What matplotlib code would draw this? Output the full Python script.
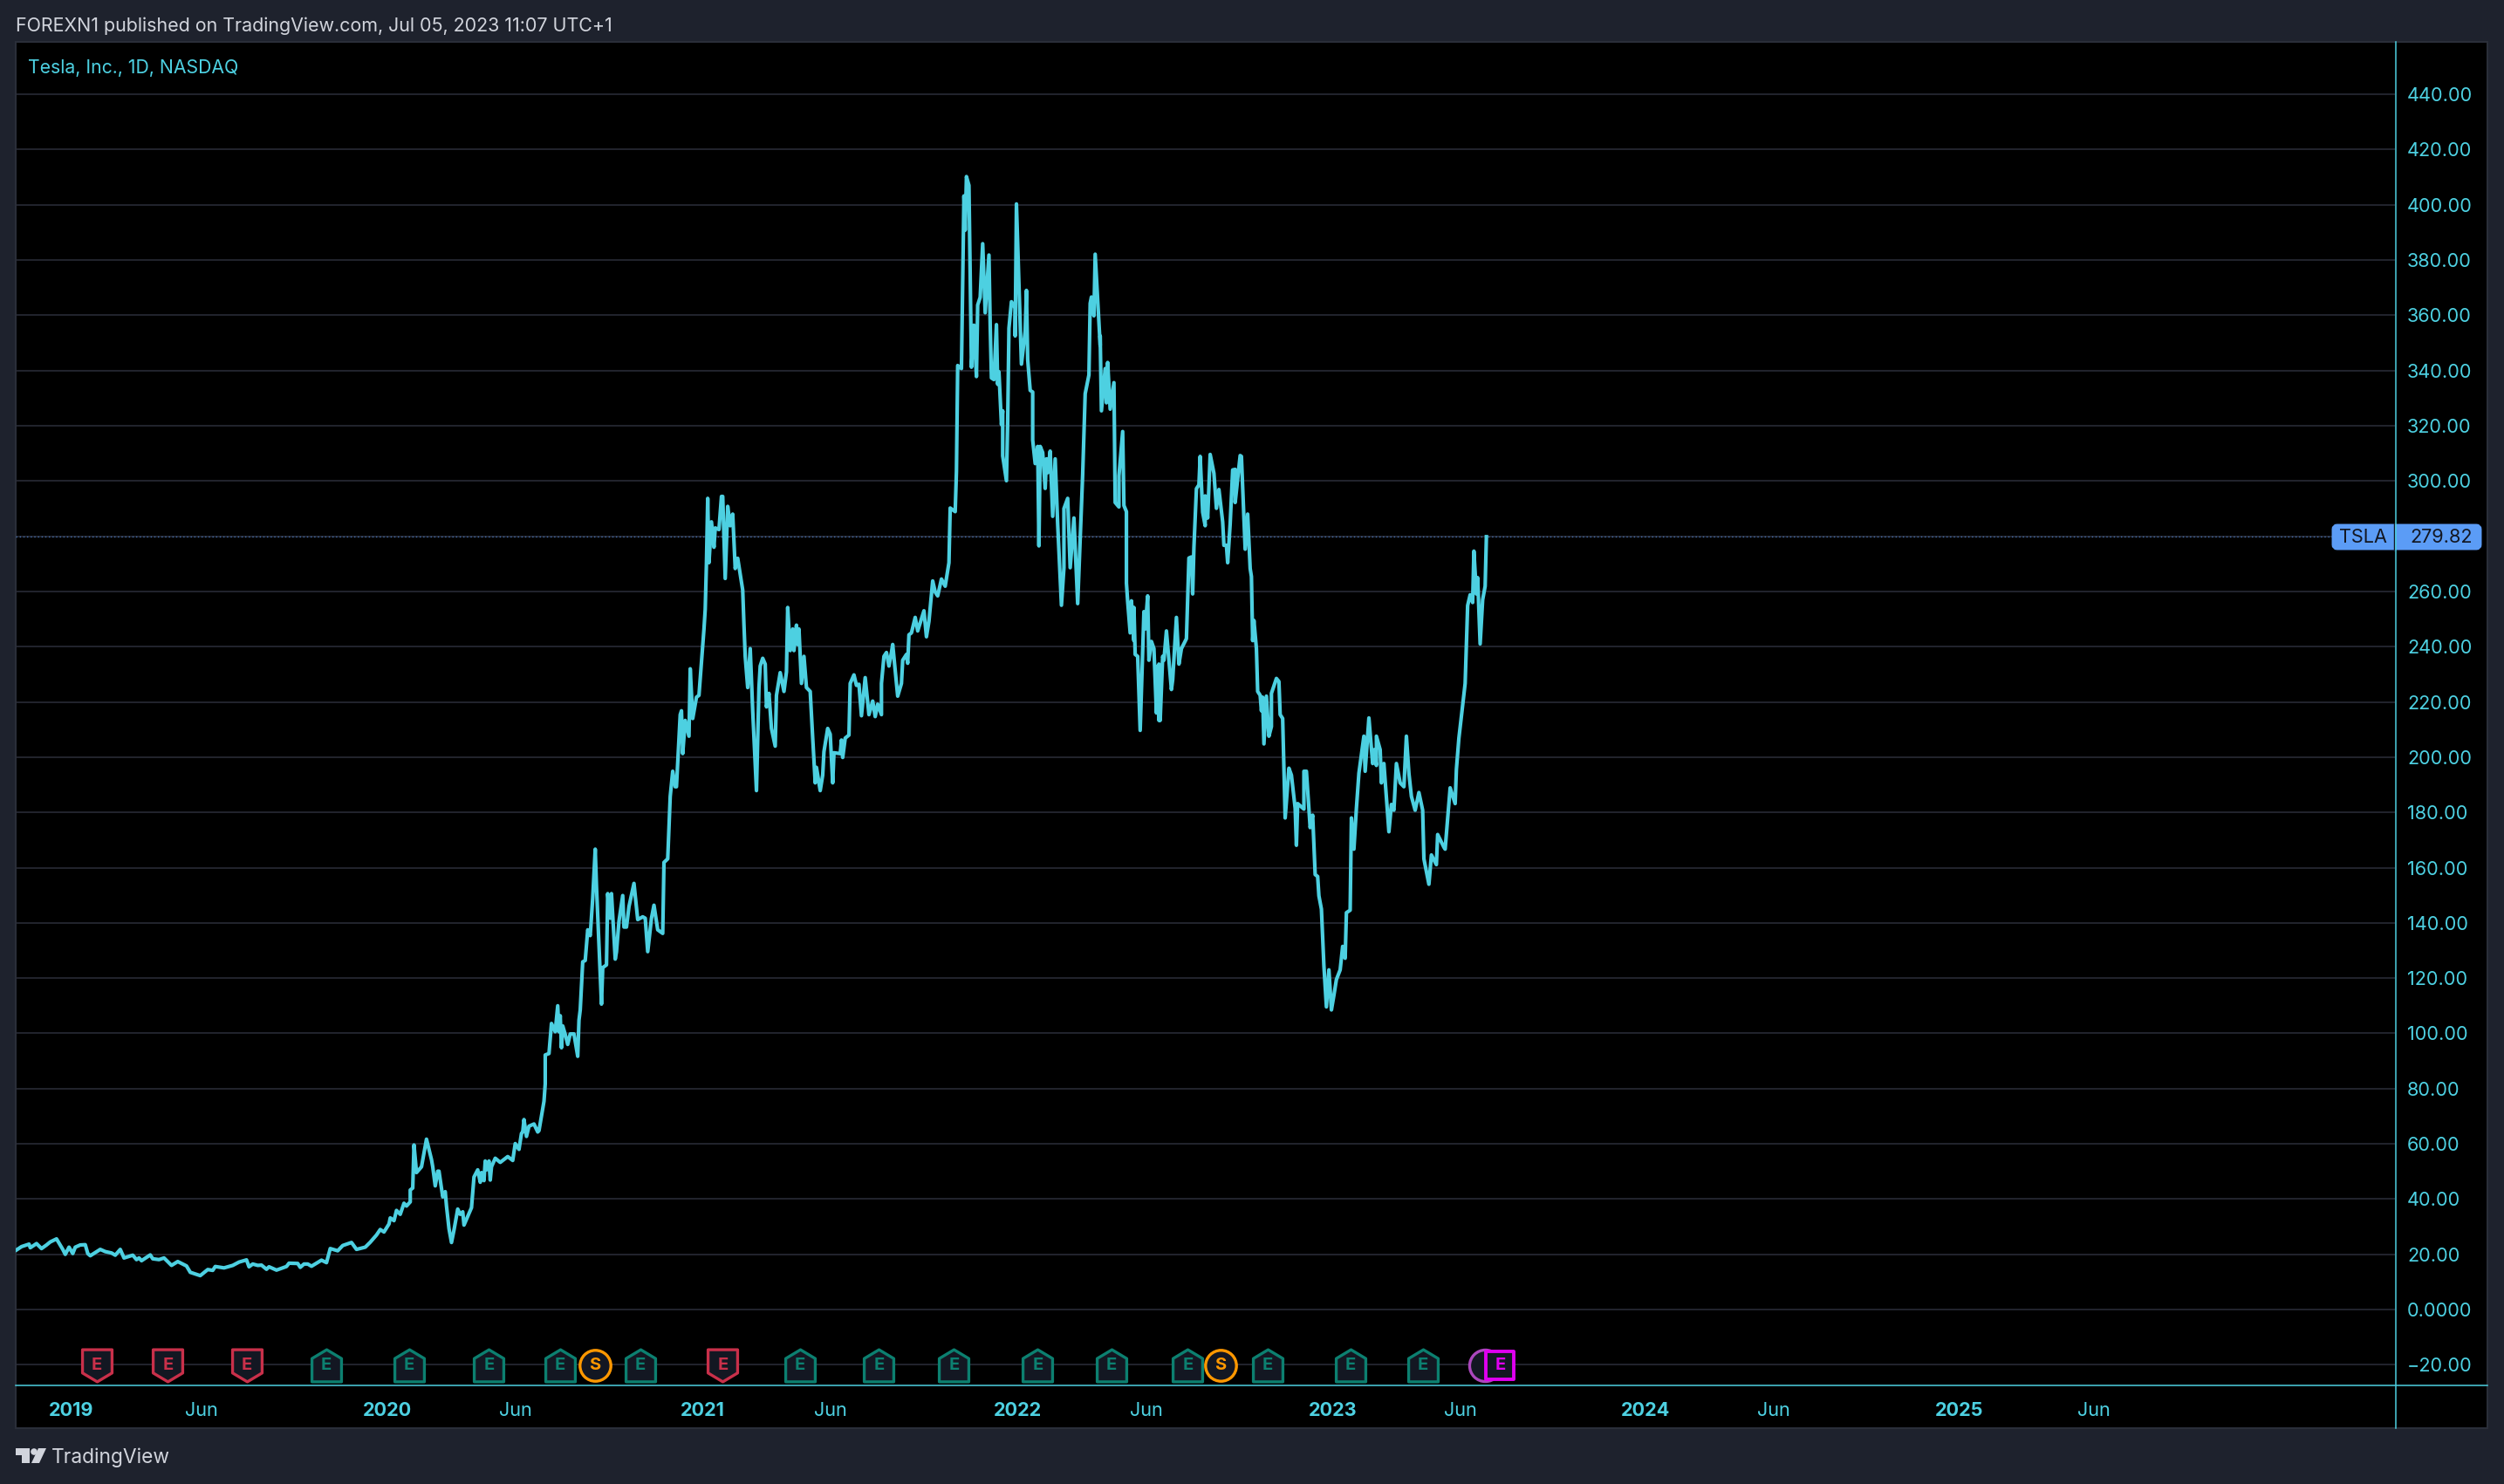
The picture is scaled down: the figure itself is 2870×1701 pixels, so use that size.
import numpy as np
import matplotlib
matplotlib.use('Agg')
import matplotlib.pyplot as plt
from matplotlib.lines import Line2D
from matplotlib.markers import MarkerStyle
from matplotlib.patches import Circle, FancyBboxPatch, Polygon, Rectangle
from matplotlib.path import Path

# session = trading days counted from the first session of 2019
sessions_2019 = [-44, -40, -34, -33, -28, -24, -20, -17, -12, -7, -5, -2, 1, 3, 7, 11, 13, 15, 23, 27, 32, 35, 39, 42, 49, 52, 54, 56, 63, 65, 70, 74, 80, 85, 92, 95, 103, 109, 113, 115, 122, 129, 134, 140, 142, 145, 149, 152, 156, 158, 164, 172, 174, 181, 183, 186, 189, 192, 200, 204, 207, 213, 217, 224, 228, 235, 239, 244, 247, 250, 254, 255]
close_2019 = [21.6, 22.8, 23.7, 22.4, 23.9, 22.1, 23.4, 24.5, 25.6, 21.8, 20, 22.6, 20.3, 22.6, 23.4, 23.5, 20.3, 19.5, 21.8, 21, 20.5, 19.7, 21.8, 18.7, 19.7, 18.1, 18.7, 17.7, 19.8, 18.4, 18.1, 18.7, 16, 17.4, 15.8, 13.5, 12.3, 14.5, 14.2, 15.6, 15.1, 16, 17.2, 18, 15.5, 16.5, 16, 16.1, 14.6, 15.5, 14.3, 15.6, 16.8, 16.7, 15.3, 16.5, 16.5, 15.7, 17.9, 17, 22.1, 21.3, 23.2, 24.3, 21.8, 22.6, 24.4, 27, 29, 28.1, 31, 33.2]

sessions_2020 = [258, 260, 263, 266, 268, 271, 271, 273, 274, 276, 280, 284, 288, 289, 291, 293, 294, 297, 299, 300, 302, 304, 306, 309, 311, 313, 314, 320, 322, 325, 327, 328, 330, 331, 332, 334, 335, 336, 339, 343, 349, 353, 355, 358, 360, 361, 362, 364, 366, 370, 373, 374, 378, 379, 379, 382, 384, 387, 389, 390, 391, 392, 393, 395, 397, 399, 402, 405, 406, 407, 409, 411, 413, 415, 417, 419, 420, 424, 425, 428, 429, 431, 432, 435, 436, 438, 441, 442, 444, 446, 450, 453, 457, 459, 461, 464, 466, 469, 473]
close_2020 = [32.2, 35.9, 34.5, 38.5, 37.5, 39, 43.3, 44, 59.6, 49.6, 51.7, 61.7, 54.3, 51.7, 44.8, 50.1, 50.1, 40.8, 42.7, 37.5, 29.3, 24.3, 28.8, 36.4, 34.5, 35.4, 30.6, 36.9, 48, 50.6, 46.1, 49.6, 46.7, 53.8, 50.6, 53.8, 46.9, 51.7, 54.8, 53.3, 55.4, 54, 60.1, 58, 63.8, 64.3, 68.8, 62.7, 66.4, 67.2, 64.3, 64.8, 75.4, 81.7, 92.2, 92.7, 103.6, 100.6, 110, 100.6, 106.4, 94.8, 102.7, 99.6, 96, 99.8, 99.8, 91.7, 104.8, 108.5, 125.9, 126.4, 137.5, 135.4, 149, 166.7, 153.3, 110.6, 123.8, 124.8, 150.6, 141.7, 150.6, 126.9, 129.5, 140.6, 149.9, 138.5, 138.5, 145.9, 154.3, 141.2, 142.2, 141.7, 129.6, 141.7, 146.4, 137.5, 136.2]

sessions_2021 = [474, 477, 479, 481, 483, 484, 487, 488, 489, 491, 494, 495, 497, 500, 502, 506, 507, 508, 509, 510, 512, 514, 515, 518, 520, 521, 523, 525, 527, 529, 531, 533, 537, 538, 539, 541, 543, 545, 548, 550, 551, 553, 555, 556, 558, 560, 563, 564, 567, 570, 572, 573, 575, 577, 578, 580, 581, 582, 584, 586, 588, 591, 593, 595, 596, 599, 601, 602, 605, 607, 609, 610, 615, 616, 617, 619, 622, 623, 626, 628, 630, 632, 635, 638, 641, 643, 645, 648, 648, 650, 652, 654, 656, 657, 661, 664, 665, 668, 669, 670, 672, 675, 677, 682, 684, 686, 689, 691, 693, 696, 699, 702]
close_2021 = [161.9, 163.2, 185.8, 194.9, 189.3, 189.3, 215.4, 216.8, 201.3, 213.3, 207.6, 232, 214, 221.7, 222.4, 246.4, 253.5, 270.4, 293.7, 270.4, 285.2, 276, 283, 282.4, 294.4, 294.4, 264.7, 290.8, 283.8, 288, 268.3, 272, 260.5, 247.8, 236.5, 225.2, 239.3, 216.8, 187.9, 225.2, 233, 235.8, 233.7, 218.2, 223.1, 210.4, 204, 222.4, 230.6, 223.8, 230.9, 254.2, 238.6, 246.4, 238.6, 247.8, 240.8, 246.4, 226.7, 236.5, 225.2, 223.8, 206.9, 190.7, 196.3, 187.9, 193.5, 202, 210.4, 208.3, 190.7, 201.6, 201.3, 206.2, 199.9, 206.9, 208, 226.7, 229.8, 226, 226.4, 215, 228.8, 215.4, 220.3, 214.7, 219.2, 215.4, 226.7, 236.5, 237.9, 233, 237.9, 240.8, 222.1, 226.7, 235.1, 237.2, 234, 244.3, 245, 250.6, 245.7, 253, 243.6, 249.2, 263.8, 259.8, 258.4, 264.5, 261.9, 270.4]

sessions_2022 = [703, 707, 708, 709, 712, 714, 715, 716, 718, 720, 722, 724, 725, 727, 729, 731, 734, 735, 736, 738, 740, 741, 742, 744, 745, 745, 748, 749, 750, 752, 755, 755, 756, 760, 763, 764, 765, 767, 769, 769, 771, 773, 774, 775, 777, 779, 780, 781, 783, 785, 787, 789, 792, 794, 794, 797, 799, 802, 805, 809, 811, 814, 815, 816, 818, 819, 823, 823, 824, 827, 828, 829, 831, 834, 835, 838, 838, 841, 842, 844, 844, 845, 847, 848, 850, 850, 851, 853, 855, 858, 859, 861, 862, 864, 866, 868, 869, 870, 870, 871, 873, 874, 876, 878, 880, 881, 884, 886, 888, 892, 894, 896, 897, 898, 900, 902, 903, 905, 907, 907, 909, 911, 914, 916, 918, 921, 922, 924, 925, 927, 929, 931, 931, 935, 936, 939, 941, 943, 944, 945, 946, 948, 949, 951, 952, 953, 954, 956, 958, 960, 960, 964, 966, 967, 969, 971, 974, 976, 979, 980, 981, 986, 986, 988, 990, 991, 993, 995, 997, 998, 1000, 1002, 1004, 1006]
close_2022 = [290.2, 288.9, 303.5, 341.8, 340.7, 403.2, 390.8, 410.2, 407, 341.2, 356.4, 337.8, 363.7, 366.5, 385.9, 360.9, 381.8, 356.4, 337.3, 336.7, 356.6, 335, 339.5, 320.4, 325.4, 309.1, 300.1, 321.5, 355.3, 364.9, 362.6, 352.5, 400.3, 342.3, 354.2, 369, 344, 332.8, 332.2, 314.8, 306.3, 312.5, 276.5, 312.5, 310.3, 297.3, 308, 303, 310.8, 287.2, 308, 284.3, 255, 268.6, 290, 293.7, 268.6, 286.6, 255.6, 302.4, 331.6, 338.4, 364.3, 366.6, 359.8, 382.1, 349.1, 352.5, 325.4, 340.7, 328.3, 342.9, 326, 335.6, 292.2, 290.6, 301.8, 317.9, 291.1, 288.9, 263, 256.3, 245, 256.6, 242.2, 254.2, 237.2, 236.5, 209.7, 252.7, 246.4, 258.4, 235.1, 241.9, 239.3, 216, 233, 213.3, 233.7, 213.3, 236.5, 235.1, 245.7, 235.1, 224.5, 228, 250.6, 233.7, 239.3, 242.9, 272.1, 272.5, 259.1, 276, 297.2, 298.6, 308.9, 288.7, 283.8, 294.6, 286.6, 309.6, 302.8, 290.1, 296.9, 285.2, 276.7, 276.7, 270.4, 284.5, 304, 304.2, 292.2, 309.2, 308.9, 275.3, 288, 268.3, 265.4, 242.2, 249.5, 239.3, 223.8, 222.4, 216.8, 221.7, 204.8, 222.1, 207.6, 211.1, 223.1, 228.5, 227.4, 215.4, 214, 178, 196, 193.5, 181.5, 168.1, 183.2, 181.2, 194.9, 194.9, 181.5, 174.5, 179, 157.5, 156.8, 149.8, 145, 124.4, 109.6, 123]

sessions_2023 = [1008, 1010, 1012, 1015, 1017, 1019, 1020, 1023, 1024, 1026, 1028, 1030, 1034, 1035, 1038, 1041, 1042, 1044, 1044, 1047, 1048, 1050, 1054, 1056, 1058, 1060, 1063, 1066, 1068, 1070, 1072, 1075, 1078, 1081, 1082, 1086, 1088, 1092, 1093, 1098, 1099, 1103, 1107, 1108, 1110, 1113, 1115, 1117, 1119, 1121, 1122, 1124, 1125, 1127, 1129, 1131, 1132]
close_2023 = [108.5, 113.8, 119.5, 123, 131.5, 127.2, 143.7, 144.6, 178, 166.7, 181.5, 194.2, 207.6, 194.9, 214.2, 197.7, 202.7, 197, 207.6, 202.7, 190.7, 197.7, 173, 182.9, 180.8, 197.7, 190.7, 189.3, 207.6, 194.2, 185.8, 180.8, 187.2, 180.8, 163.2, 154, 164.6, 161.1, 172, 167.4, 166.7, 188.9, 183.2, 195.6, 206.9, 218.9, 226.7, 254.9, 258.8, 256, 274.6, 259.1, 265, 241, 257, 261.9, 279.82]

last_close = 279.82

price_ticks = list(range(-20, 441, 20))
price_labels = ['\u221220.00', '0.0000'] + ['%d.00' % p for p in price_ticks[2:]]

date_ticks = [0, 104, 253, 355, 505, 607, 757, 860, 1009, 1111, 1259, 1362, 1510, 1618]
date_labels = ['2019', 'Jun', '2020', 'Jun', '2021', 'Jun', '2022', 'Jun', '2023', 'Jun', '2024', 'Jun', '2025', 'Jun']

earnings_red = [20, 77, 140, 521]
earnings_green = [204, 270, 334, 391, 455, 583, 646, 706, 773, 832, 893, 957, 1023, 1081]
splits = [419, 919]
dividend_next = [1131]
earnings_next = [1143]
marker_level = -20.1

W, H = 2870, 1701
BG = '#1e222d'
CYAN = '#4dd0e1'
GRID = '#2c2e3a'
BLUE = '#5b9cf6'
TEXT = '#d1d4dc'

plt.rcParams['font.family'] = ['Inter', 'DejaVu Sans']

fig = plt.figure(figsize=(W / 100, H / 100), dpi=100, facecolor=BG)


def fx(x):
    return x / W


def fy(y):
    return 1 - y / H


# chart frame, then the pane
fig.add_artist(Rectangle((fx(18), fy(1637)), (2851 - 18) / W, (1637 - 48) / H, transform=fig.transFigure,
                         facecolor='black', edgecolor='#2a2e39', lw=1.5, zorder=-1))

ax = fig.add_axes([fx(18), fy(1588), (2745 - 18) / W, (1588 - 48) / H], zorder=1)
ax.patch.set_alpha(0)
ax.set_xlim(-44.66, 1858.9)
ax.set_ylim(-27.45, 458.97)
for s in ax.spines.values():
    s.set_visible(False)

ax.set_yticks(price_ticks)
ax.set_yticklabels(price_labels)
ax.yaxis.tick_right()
ax.tick_params(axis='y', length=0, pad=10, labelsize=15.6, labelcolor=CYAN)
ax.set_xticks(date_ticks)
ax.set_xticklabels(date_labels)
ax.tick_params(axis='x', length=0, pad=13.5, labelsize=15.6, labelcolor=CYAN)
for lab in ax.get_xticklabels():
    if lab.get_text() != 'Jun':
        lab.set_fontweight('bold')
ax.grid(False)
for p in price_ticks:
    ax.axhline(p, color=GRID, lw=1.1, zorder=1)
ax.axhline(last_close, color=BLUE, lw=1, ls=(0, (1, 2)), alpha=0.65, zorder=1)

sessions = sessions_2019 + sessions_2020 + sessions_2021 + sessions_2022 + sessions_2023
close = close_2019 + close_2020 + close_2021 + close_2022 + close_2023
ax.plot(sessions, close, color=CYAN, lw=3.0, solid_joinstyle='round', zorder=3)

# event flags along the bottom of the pane
shield_down = Path([(-0.92, 1), (0.92, 1), (0.92, -0.45), (0, -1), (-0.92, -0.45), (-0.92, 1)], closed=True)
shield_up = Path([(-0.92, -1), (0.92, -1), (0.92, 0.45), (0, 1), (-0.92, 0.45), (-0.92, -1)], closed=True)
square = Path([(-1, -1), (1, -1), (1, 1), (-1, 1), (-1, -1)], closed=True)
FILL = '#131722'


def flags(xs, path, edge, letter, ms=26.5, mew=2.4, z=4):
    m = MarkerStyle(path, joinstyle='round')
    ax.plot(xs, [marker_level] * len(xs), ls='none', marker=m, ms=ms, mfc=FILL, mec=edge, mew=mew,
            zorder=z, clip_on=False)
    for x in xs:
        ax.text(x, marker_level, letter, color=edge, fontsize=14.5, fontweight='bold', ha='center',
                va='center', zorder=z + 0.1)


flags(earnings_red, shield_down, '#c9304a', 'E')
flags(earnings_green, shield_up, '#0c8070', 'E')
flags(splits, 'o', '#ff9800', 'S', ms=25.5)
flags(dividend_next, 'o', '#ab47bc', '', ms=26, z=4)
flags(earnings_next, square, '#e000f0', 'E', ms=23.5, mew=2.8, z=5)

# axis lines run past the pane into the scales
fig.add_artist(Line2D([fx(18), fx(2851)], [fy(1588), fy(1588)], color=CYAN, lw=1.1, zorder=3))
fig.add_artist(FancyBboxPatch((fx(2676), fy(627)), 165 / W, 23 / H, transform=fig.transFigure,
                              boxstyle='round,pad=0,rounding_size=0.001', facecolor=BLUE, edgecolor=BLUE,
                              lw=5, zorder=4, mutation_aspect=W / H))
fig.add_artist(Line2D([fx(2743.6), fx(2743.6)], [fy(600), fy(631)], color='#131722', lw=1, zorder=4.5))
fig.add_artist(Line2D([fx(2745.5), fx(2745.5)], [fy(48), fy(1637)], color=CYAN, lw=1.1, zorder=5))
fig.text(fx(2708), fy(615.5), 'TSLA', color='#131722', fontsize=15.6, ha='center', va='center', zorder=6)
fig.text(fx(2798), fy(615.5), '%.2f' % last_close, color='#131722', fontsize=15.6, ha='center', va='center',
         zorder=6)

fig.text(fx(18), fy(29.5), 'FOREXN1 published on TradingView.com, Jul 05, 2023 11:07 UTC+1', color=TEXT,
         fontsize=15.45, ha='left', va='center')
fig.text(fx(32), fy(78.5), 'Tesla, Inc., 1D, NASDAQ', color=CYAN, fontsize=15.3, ha='left', va='center', zorder=6)

# TradingView wordmark
logo_t = [(18, 1660), (34, 1660), (34, 1677), (25, 1677), (25, 1668), (18, 1668)]
logo_v = [(44, 1660), (53, 1660), (45, 1677), (36, 1677)]
for pts in (logo_t, logo_v):
    fig.add_artist(Polygon([(fx(x), fy(y)) for x, y in pts], closed=True, transform=fig.transFigure,
                           facecolor=TEXT, edgecolor='none'))
fig.add_artist(Circle((39, H - 1664), 3.8, transform=None, facecolor=TEXT, edgecolor='none'))
fig.text(fx(59), fy(1671), 'TradingView', color=TEXT, fontsize=16.4, ha='left', va='center')

fig.savefig('out.png', dpi=100, facecolor=BG)
